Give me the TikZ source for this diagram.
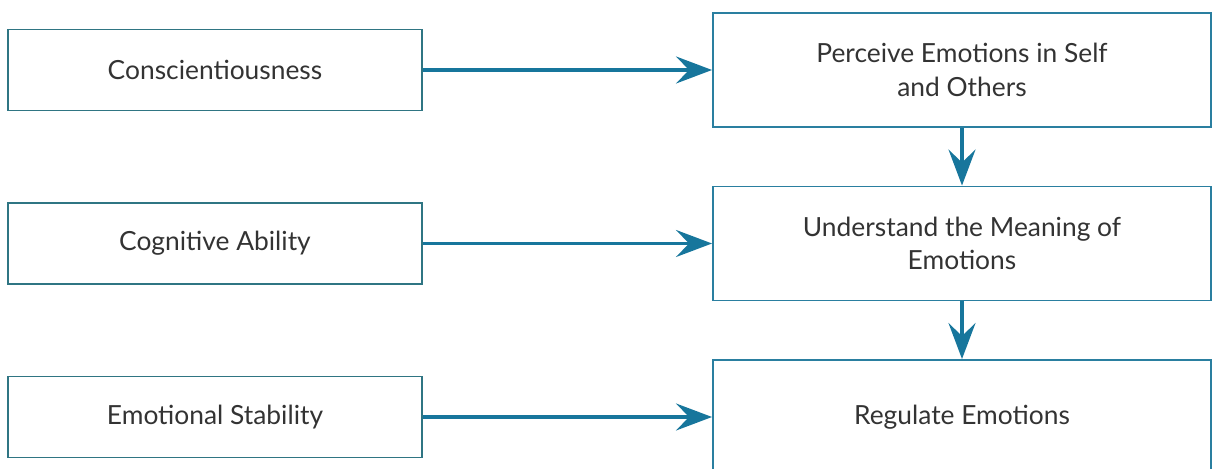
\documentclass[tikz,border=0pt]{standalone}
\usepackage{fontspec}
\setmainfont{Lato}
\usetikzlibrary{arrows.meta}
\definecolor{boxteal}{HTML}{2A7FA0}
\definecolor{leftteal}{HTML}{2F7583}
\definecolor{arrowteal}{HTML}{17769C}
\definecolor{textgray}{HTML}{333333}
\begin{document}
\begin{tikzpicture}[
    trait/.style={draw=leftteal, line width=1pt, minimum width=8.28cm, minimum height=1.62cm,
                  text=textgray, font=\fontsize{15}{18}\selectfont},
    skill/.style={draw=boxteal, line width=1.1pt, minimum width=9.96cm, minimum height=2.28cm,
                  text=textgray, align=center, font=\fontsize{15}{19}\selectfont},
    link/.style={-{Stealth[length=7.2mm, width=5.4mm, inset=2.6mm]}, draw=arrowteal, line width=1.8pt}
]
    \useasboundingbox (0,0) rectangle (24.24,9.38);
    \node[trait] (consc) at (4.30,7.98) {Conscientiousness};
    \node[trait] (cogn) at (4.30,4.51) {Cognitive Ability};
    \node[trait] (stab) at (4.30,1.04) {Emotional Stability};
    \node[skill] (perceive) at (19.24,7.98) {Perceive Emotions in Self\\and Others};
    \node[skill] (meaning) at (19.24,4.51) {Understand the Meaning of\\Emotions};
    \node[skill] (regulate) at (19.24,1.04) {Regulate Emotions};
    \draw[link] (consc) -- (perceive);
    \draw[link] (cogn) -- (meaning);
    \draw[link] (stab) -- (regulate);
    \draw[link] (perceive) -- (meaning);
    \draw[link] (meaning) -- (regulate);
\end{tikzpicture}
\end{document}
